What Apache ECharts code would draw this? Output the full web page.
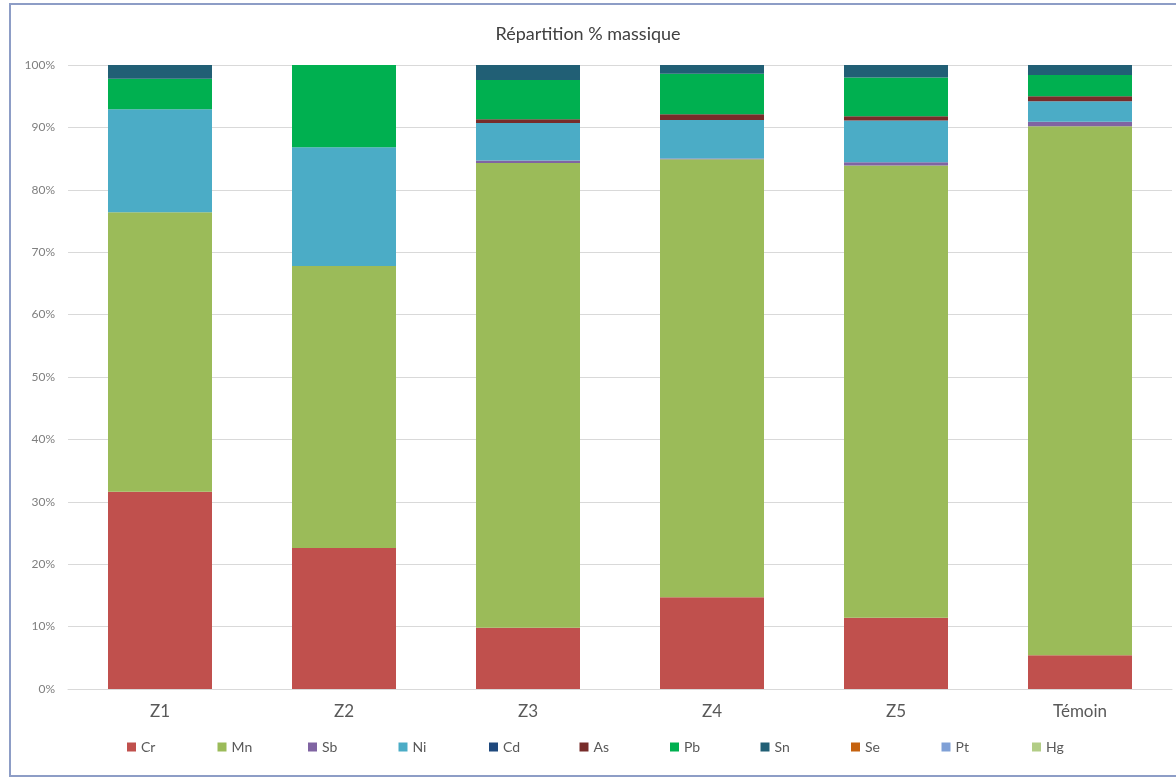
<!DOCTYPE html>
<html>
<head>
<meta charset="utf-8">
<script src="https://cdn.jsdelivr.net/npm/echarts@6/dist/echarts.min.js"></script>
<style>
  html, body { margin: 0; padding: 0; background: #fff; }
  #chart { width: 1176px; height: 777px; }
</style>
</head>
<body>
<div id="chart"></div>
<script>
// Sites sampled
const categories = ['Z1', 'Z2', 'Z3', 'Z4', 'Z5', 'Témoin'];

// Mass share (%) of each element per site
const Cr = [31.6, 22.6, 9.8, 14.7, 11.4, 5.4];
const Mn = [44.8, 45.2, 74.5, 70.2, 72.5, 84.8];
const Sb = [0.0, 0.0, 0.4, 0.1, 0.5, 0.7];
const Ni = [16.5, 19.0, 6.0, 6.2, 6.7, 3.3];
const Cd = [0, 0, 0, 0, 0, 0];
const As = [0.0, 0.0, 0.6, 0.9, 0.7, 0.8];
const Pb = [4.9, 13.2, 6.3, 6.5, 6.2, 3.4];
const Sn = [2.2, 0.0, 2.4, 1.4, 2.0, 1.6];
const Se = [0, 0, 0, 0, 0, 0];
const Pt = [0, 0, 0, 0, 0, 0];
const Hg = [0, 0, 0, 0, 0, 0];

const yTicks = [0, 10, 20, 30, 40, 50, 60, 70, 80, 90, 100];

const elements = [
  ['Cr', Cr, '#C0504D'],
  ['Mn', Mn, '#9BBB59'],
  ['Sb', Sb, '#8064A2'],
  ['Ni', Ni, '#4BACC6'],
  ['Cd', Cd, '#1F497D'],
  ['As', As, '#772C2A'],
  ['Pb', Pb, '#00B050'],
  ['Sn', Sn, '#215F75'],
  ['Se', Se, '#C5620F'],
  ['Pt', Pt, '#7FA0D6'],
  ['Hg', Hg, '#B2CD86']
];

const FONT = 'Lato, "Open Sans", sans-serif';

// One legend block per element so the entries sit on an even pitch
const legends = elements.map(([name], i) => ({
  left: 122 + i * 90.5,
  top: 735,
  icon: 'rect',
  itemWidth: 9,
  itemHeight: 9,
  selectedMode: false,
  textStyle: { fontFamily: FONT, fontSize: 14, color: '#595959' },
  data: [name]
}));

const chart = echarts.init(document.getElementById('chart'), null, { renderer: 'canvas' });

chart.setOption({
  animation: false,
  backgroundColor: '#ffffff',
  textStyle: { fontFamily: FONT },
  title: {
    text: 'Répartition % massique',
    left: 'center',
    top: 20,
    textStyle: { fontFamily: FONT, fontSize: 18, fontWeight: 'normal', color: '#404040' }
  },
  graphic: [{
    type: 'rect',
    shape: { x: 10, y: 4, width: 1200, height: 772 },
    style: { fill: 'none', stroke: '#8D9DC6', lineWidth: 2 },
    silent: true,
    z: -1
  }],
  grid: { left: 68, right: 4, top: 65, bottom: 88, containLabel: false },
  legend: legends,
  xAxis: {
    type: 'category',
    data: categories,
    axisLine: { show: true, lineStyle: { color: '#D9D9D9', width: 1 } },
    axisTick: { show: false },
    axisLabel: { fontFamily: FONT, fontSize: 17, color: '#595959', margin: 14 }
  },
  yAxis: {
    type: 'value',
    min: yTicks[0],
    max: yTicks[yTicks.length - 1],
    interval: 10,
    axisLine: { show: false },
    axisTick: { show: false },
    splitLine: { lineStyle: { color: '#D9D9D9', width: 1 } },
    axisLabel: { fontFamily: FONT, fontSize: 12, color: '#7F7F7F', margin: 13, formatter: v => v + '%' }
  },
  series: elements.map(([name, values, color]) => ({
    name,
    type: 'bar',
    stack: 'total',
    barWidth: 104,
    data: values,
    itemStyle: { color },
    emphasis: { disabled: true }
  }))
});
</script>
</body>
</html>
